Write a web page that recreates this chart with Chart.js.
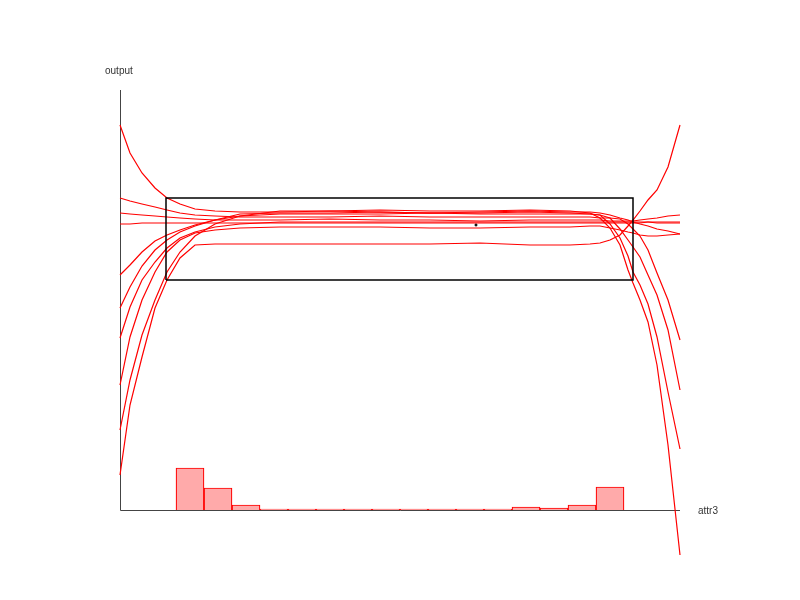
<!DOCTYPE html>
<html>
<head>
<meta charset="utf-8">
<script src="https://cdn.jsdelivr.net/npm/chart.js@4/dist/chart.umd.min.js"></script>
<style>
  html, body { margin: 0; padding: 0; background: #fff; }
  #wrap { width: 800px; height: 600px; }
</style>
</head>
<body>
<div id="wrap"><canvas id="c" width="800" height="600"></canvas></div>
<script>
// attr3 positions at which each curve was sampled
const attr3 = [0,10,22,35,47,60,75,95,120,160,210,260,310,360,410,450,470,480,490,500,508,513,520,528,537,548,560];

// individual conditional expectation curves (output)
const curve1  = [385,357,337,322,312,306,301,299,298,298,299,298,297,298,299,298,298,297,295,292,290,288,286,284,281,279,276];
const curve2  = [312,309,306,303,300,297,295,294,293,293,293,294,293,293,293,293,293,292,292,291,286,281,274,260,237,210,170];
const curve3  = [297,296,295,294,293,292,291,290,290,290,291,290,290,289,290,290,290,290,289,289,289,289,290,291,292,294,295];
const curve4  = [286,286,287,287,287,287,287,287,287,287,287,287,287,287,287,287,287,287,287,287,287,287,287,288,288,288,288];
const curve5  = [235,245,258,269,275,280,285,290,296,297,297,298,297,297,298,297,296,295,286,272,254,238,225,206,173,118,61];
const curve6  = [202,223,244,260,270,278,284,290,294,296,296,296,297,296,296,296,296,295,292,281,270,263,253,235,215,180,120];
const curve7  = [172,203,230,248,262,272,278,283,286,288,288,288,288,288,288,288,288,288,288,288,288,288,288,288,287,287,287];
const curve8  = [125,173,210,238,258,270,277,280,282,283,283,283,282,282,283,283,284,284,282,280,278,277,275,274,274,275,276];
const curve9  = [80,130,175,210,238,258,274,286,294,299,299,300,299,299,300,299,297,292,282,265,240,227,210,188,145,65,-45];
const curve10 = [35,105,153,202,230,252,265,266,266,266,266,266,266,267,265,265,266,267,270,275,284,290,299,310,320,343,385];
const curves = [curve1, curve2, curve3, curve4, curve5, curve6, curve7, curve8, curve9, curve10];

// histogram of attr3
const binCenters = [70,98,126,154,182,210,238,266,294,322,350,378,406,434,462,490];
const binCounts  = [42,22,5,1,1,1,1,1,1,1,1,1,3,2,5,23];

// selected region (attr3 from/to, output from/to)
const rectX = [46, 513];
const rectY = [230, 312];

// selected instance marker
const markX = [356];
const markY = [285];

const datasets = [];

datasets.push({
  type: 'line',
  label: 'region',
  data: [
    {x: rectX[0], y: rectY[0]}, {x: rectX[0], y: rectY[1]},
    {x: rectX[1], y: rectY[1]}, {x: rectX[1], y: rectY[0]},
    {x: rectX[0], y: rectY[0]}
  ],
  borderColor: '#000',
  borderWidth: 1.5,
  pointRadius: 0,
  tension: 0,
  fill: false,
  order: 0
});

datasets.push({
  type: 'scatter',
  label: 'mark',
  data: markX.map((x, i) => ({x, y: markY[i]})),
  backgroundColor: '#000',
  borderColor: '#000',
  pointStyle: 'rect',
  pointRadius: 1.2,
  order: 1
});

curves.forEach((c, k) => {
  datasets.push({
    type: 'line',
    label: 'curve' + (k + 1),
    data: attr3.map((x, i) => ({x, y: c[i]})),
    borderColor: '#ff0000',
    borderWidth: 1.2,
    pointRadius: 0,
    tension: 0,
    fill: false,
    clip: false,
    order: 2
  });
});

datasets.push({
  type: 'bar',
  label: 'hist',
  data: binCenters.map((x, i) => ({x, y: binCounts[i]})),
  backgroundColor: '#ffaaaa',
  borderColor: '#ff0000',
  borderWidth: 1.2,
  barPercentage: 1,
  categoryPercentage: 1,
  grouped: false,
  order: 3
});

const axesPlugin = {
  id: 'axesPlugin',
  beforeDatasetsDraw(chart) {
    const {ctx, chartArea: a} = chart;
    ctx.save();
    ctx.strokeStyle = '#444';
    ctx.lineWidth = 1;
    ctx.beginPath();
    ctx.moveTo(a.left + 0.5, a.top);
    ctx.lineTo(a.left + 0.5, a.bottom + 0.5);
    ctx.lineTo(a.right, a.bottom + 0.5);
    ctx.stroke();
    ctx.restore();
  },
  afterDraw(chart) {
    const {ctx, chartArea: a} = chart;
    ctx.save();
    ctx.fillStyle = '#333';
    ctx.font = '10px "Liberation Sans", Arial, sans-serif';
    ctx.textBaseline = 'middle';
    ctx.textAlign = 'left';
    ctx.fillText('output', a.left - 15, a.top - 19);
    ctx.fillText('attr3', a.right + 18, a.bottom + 1.5);
    ctx.restore();
  }
};

new Chart(document.getElementById('c'), {
  type: 'line',
  data: { datasets },
  options: {
    responsive: false,
    animation: false,
    layout: { padding: { left: 120, right: 120, top: 90, bottom: 90 } },
    plugins: { legend: { display: false }, tooltip: { enabled: false } },
    scales: {
      x: { type: 'linear', min: 0, max: 560, offset: false, display: false },
      y: { type: 'linear', min: 0, max: 420, display: false }
    }
  },
  plugins: [axesPlugin]
});
</script>
</body>
</html>
